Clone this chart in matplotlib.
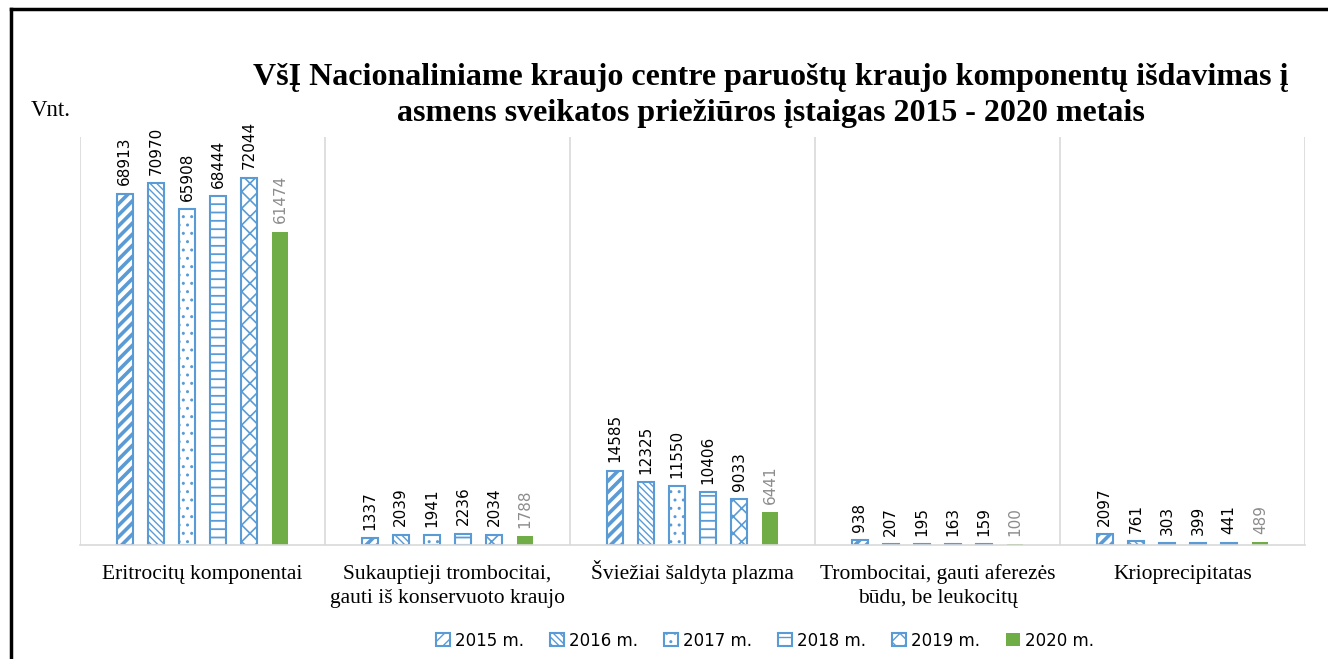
import numpy as np
import matplotlib.pyplot as plt
from matplotlib.lines import Line2D

categories = ['Eritrocitų komponentai',
              'Sukauptieji trombocitai,\ngauti iš konservuoto kraujo',
              'Šviežiai šaldyta plazma',
              'Trombocitai, gauti aferezės\nbūdu, be leukocitų',
              'Krioprecipitatas']
years = ['2015 m.', '2016 m.', '2017 m.', '2018 m.', '2019 m.', '2020 m.']
v2015 = [68913, 1337, 14585, 938, 2097]
v2016 = [70970, 2039, 12325, 207, 761]
v2017 = [65908, 1941, 11550, 195, 303]
v2018 = [68444, 2236, 10406, 163, 399]
v2019 = [72044, 2034, 9033, 159, 441]
v2020 = [61474, 1788, 6441, 100, 489]
series = [v2015, v2016, v2017, v2018, v2019, v2020]

blue = '#5B9BD5'
green = '#70AD47'
hatches = ['///', '\\\\\\\\\\', '..', '--', 'xx', None]
hatch_lw = [2.6, 1.0, 1.0, 1.3, 1.2, 1.0]

fig = plt.figure(figsize=(13.28, 6.59), dpi=100)
ax = fig.add_axes([0.0602, 0.173, 0.9225, 0.619])

x = np.arange(len(categories)) + 0.5
step = 0.127
width = 0.066
for i, vals in enumerate(series):
    pos = x + (i - 2.5) * step
    with plt.rc_context({'hatch.linewidth': hatch_lw[i]}):
        if i < 5:
            bars = ax.bar(pos, vals, width, facecolor='white', edgecolor=blue,
                          hatch=hatches[i], linewidth=1.5, label=years[i])
            col = 'black'
        else:
            bars = ax.bar(pos, vals, width, color=green, label=years[i])
            col = '#8c8c8c'
    for b in bars:
        if hasattr(b, 'set_hatch_linewidth'):
            b.set_hatch_linewidth(hatch_lw[i])
    for b, v in zip(bars, vals):
        ax.annotate(str(v), (b.get_x() + b.get_width() / 2, b.get_height()),
                    xytext=(0, 6), textcoords='offset points', rotation=90,
                    ha='center', va='bottom', fontsize=11, color=col)

ax.set_xlim(0, 5)
ax.set_ylim(0, 80000)
for s in range(6):
    ax.axvline(s, color='#d9d9d9', lw=1.2, zorder=0)
for sp in ['top', 'left', 'right']:
    ax.spines[sp].set_visible(False)
ax.spines['bottom'].set_color('#d9d9d9')
ax.spines['bottom'].set_linewidth(1.2)
ax.set_yticks([])
ax.set_xticks([])

# category labels, line by line so the baselines line up
for xc, cat in zip(x, categories):
    for k, line in enumerate(cat.split('\n')):
        ax.text(xc, -0.083 - k * 0.059, line, transform=ax.get_xaxis_transform(),
                ha='center', va='baseline', family='Liberation Serif', fontsize=15.5)

fig.text(0.5806, 0.855, 'VšĮ Nacionaliniame kraujo centre paruoštų kraujo komponentų išdavimas į\n'
         'asmens sveikatos priežiūros įstaigas 2015 - 2020 metais',
         ha='center', va='center', family='Liberation Serif', weight='bold',
         fontsize=23, linespacing=1.28)
fig.text(0.023, 0.833, 'Vnt.', family='Liberation Serif', fontsize=16.5, va='center')

fig.legend(loc='center', bbox_to_anchor=(0.576, 0.028), ncol=6, frameon=False,
           fontsize=12, handlelength=0.8, handleheight=0.8, handletextpad=0.3,
           columnspacing=1.6)

# outer frame
fig.add_artist(Line2D([0.008, 1.0], [0.986, 0.986], color='black', lw=2.5,
                      transform=fig.transFigure))
fig.add_artist(Line2D([0.008, 0.008], [0.0, 0.986], color='black', lw=2.5,
                      transform=fig.transFigure))

fig.savefig('out.png', dpi=100)
